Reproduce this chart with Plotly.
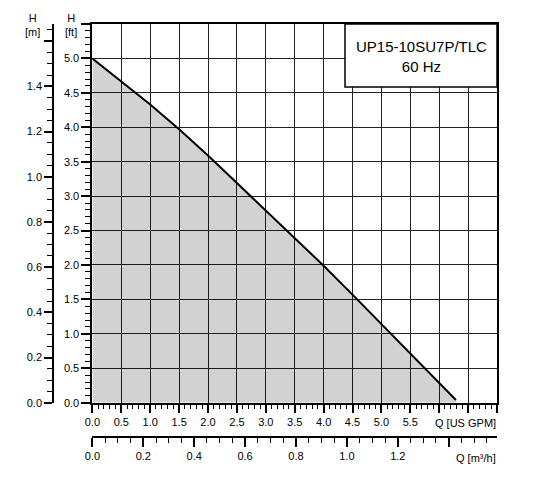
import plotly.graph_objects as go

# pump curve (Q in US GPM, H in ft)
q_gpm = [0.0, 0.5, 1.0, 1.5, 2.0, 2.5, 3.0, 3.5, 4.0, 4.5, 5.0, 5.5, 6.0, 6.29]
h_ft = [5.0, 4.67, 4.33, 3.97, 3.59, 3.19, 2.79, 2.39, 1.99, 1.57, 1.14, 0.71, 0.28, 0.04]

# axis ticks
gpm_ticks = [0.0, 0.5, 1.0, 1.5, 2.0, 2.5, 3.0, 3.5, 4.0, 4.5, 5.0, 5.5, 6.0, 6.5, 7.0]
gpm_labels = ["0.0", "0.5", "1.0", "1.5", "2.0", "2.5", "3.0", "3.5", "4.0", "4.5", "5.0", "5.5", "", "", ""]
m3h_ticks = [0.0, 0.2, 0.4, 0.6, 0.8, 1.0, 1.2, 1.4]
m3h_labels = ["0.0", "0.2", "0.4", "0.6", "0.8", "1.0", "1.2", ""]
ft_ticks = [0.0, 0.5, 1.0, 1.5, 2.0, 2.5, 3.0, 3.5, 4.0, 4.5, 5.0, 5.5]
ft_labels = ["0.0", "0.5", "1.0", "1.5", "2.0", "2.5", "3.0", "3.5", "4.0", "4.5", "5.0", ""]
m_ticks = [0.0, 0.2, 0.4, 0.6, 0.8, 1.0, 1.2, 1.4, 1.6]
m_labels = ["0.0", "0.2", "0.4", "0.6", "0.8", "1.0", "1.2", "1.4", ""]

GPM_MAX = 7.0
FT_MAX = 5.5
FT_PER_M = 3.28084
GPM_PER_M3H = 4.40287

title_lines = ["UP15-10SU7P/TLC", "60 Hz"]

# the page body has an 8px margin, so the figure starts at (8, 8)
PAGE_OFF = 8
W, H = 549 - PAGE_OFF, 496 - PAGE_OFF
PAPER_X0, PAPER_X1 = 20, 497
PAPER_Y0, PAPER_Y1 = 24, 476
L = PAPER_X0 - PAGE_OFF
R = PAGE_OFF + W - PAPER_X1
T = PAPER_Y0 - PAGE_OFF
B = PAGE_OFF + H - PAPER_Y1


def px_x(px):
    return (px - PAPER_X0) / (PAPER_X1 - PAPER_X0)


def px_y(py):
    return (PAPER_Y1 - py) / (PAPER_Y1 - PAPER_Y0)


FONT = "Liberation Sans, Arial, sans-serif"
tickfont = dict(family=FONT, size=11, color="black")

fig = go.Figure()

fig.add_trace(go.Scatter(
    x=q_gpm, y=h_ft, mode="lines",
    line=dict(color="black", width=2),
    fill="tozeroy", fillcolor="rgba(0,0,0,0.176)",
    showlegend=False, hoverinfo="skip",
))

# dummy traces so the secondary scales get drawn
fig.add_trace(go.Scatter(x=[0, GPM_MAX / GPM_PER_M3H], y=[0, 0], xaxis="x2", yaxis="y",
                         mode="markers", marker=dict(opacity=0), showlegend=False, hoverinfo="skip"))
fig.add_trace(go.Scatter(x=[0, 0], y=[0, FT_MAX / FT_PER_M], xaxis="x", yaxis="y2",
                         mode="markers", marker=dict(opacity=0), showlegend=False, hoverinfo="skip"))

grid = dict(showgrid=True, gridcolor="#222", gridwidth=1, zeroline=False)

fig.update_layout(
    width=W, height=H,
    margin=dict(l=L, r=R, t=T, b=B, autoexpand=False),
    paper_bgcolor="white", plot_bgcolor="white",
    font=dict(family=FONT, size=11, color="black"),
    xaxis=dict(
        domain=[px_x(92.4), 1], range=[0, GPM_MAX],
        tickmode="array", tickvals=gpm_ticks, ticktext=gpm_labels,
        ticks="outside", ticklen=8, tickwidth=1.5, tickcolor="black",
        minor=dict(dtick=0.1, tick0=0, ticks="outside", ticklen=4, tickwidth=1, tickcolor="black", showgrid=False),
        showline=True, mirror=True, linecolor="black", linewidth=2,
        tickfont=tickfont, **grid,
    ),
    yaxis=dict(
        domain=[px_y(402.7), 1], range=[0, FT_MAX],
        tickmode="array", tickvals=ft_ticks, ticktext=ft_labels,
        ticks="outside", ticklen=9, tickwidth=1.5, tickcolor="black",
        minor=dict(dtick=0.1, tick0=0, ticks="outside", ticklen=5, tickwidth=1, tickcolor="black", showgrid=False),
        showline=True, mirror=True, linecolor="black", linewidth=2,
        tickfont=tickfont, **grid,
    ),
    xaxis2=dict(
        overlaying="x", anchor="free", position=px_y(437.3), side="bottom",
        range=[0, GPM_MAX / GPM_PER_M3H],
        tickmode="array", tickvals=m3h_ticks, ticktext=m3h_labels,
        ticks="outside", ticklen=9, tickwidth=1.5, tickcolor="black",
        minor=dict(dtick=0.05, tick0=0, ticks="outside", ticklen=5, tickwidth=1, tickcolor="black", showgrid=False),
        showline=True, linecolor="black", linewidth=1.5,
        showgrid=False, zeroline=False, tickfont=tickfont,
    ),
    yaxis2=dict(
        overlaying="y", anchor="free", position=px_x(53), side="left",
        range=[0, FT_MAX / FT_PER_M],
        tickmode="array", tickvals=m_ticks, ticktext=m_labels,
        ticks="outside", ticklen=8, tickwidth=1.5, tickcolor="black",
        minor=dict(dtick=0.05, tick0=0, ticks="outside", ticklen=5, tickwidth=1, tickcolor="black", showgrid=False),
        showline=True, linecolor="black", linewidth=1.5,
        showgrid=False, zeroline=False, tickfont=tickfont,
    ),
)

# title box in the top right corner
fig.add_shape(type="rect", xref="paper", yref="paper",
              x0=px_x(345), x1=1, y0=px_y(87), y1=1,
              line=dict(color="black", width=1.5), fillcolor="white", layer="above")
fig.add_annotation(xref="paper", yref="paper", x=px_x(421.5), y=px_y(57),
                   xanchor="center", yanchor="middle",
                   text="<br>".join(title_lines), showarrow=False,
                   font=dict(family=FONT, size=15, color="black"), align="center")

# axis names
fig.add_annotation(xref="paper", yref="paper", x=px_x(32.5), y=px_y(25),
                   xanchor="center", yanchor="middle",
                   text="H<br>[m]", showarrow=False, font=tickfont, align="center")
fig.add_annotation(xref="paper", yref="paper", x=px_x(71), y=px_y(25),
                   xanchor="center", yanchor="middle",
                   text="H<br>[ft]", showarrow=False, font=tickfont, align="center")
fig.add_annotation(xref="paper", yref="paper", x=px_x(498), y=px_y(422.7),
                   xanchor="right", yanchor="middle",
                   text="Q [US GPM]", showarrow=False, font=tickfont)
fig.add_annotation(xref="paper", yref="paper", x=px_x(498), y=px_y(457.7),
                   xanchor="right", yanchor="middle",
                   text="Q [m³/h]", showarrow=False, font=tickfont)

fig.write_html("out.html")
